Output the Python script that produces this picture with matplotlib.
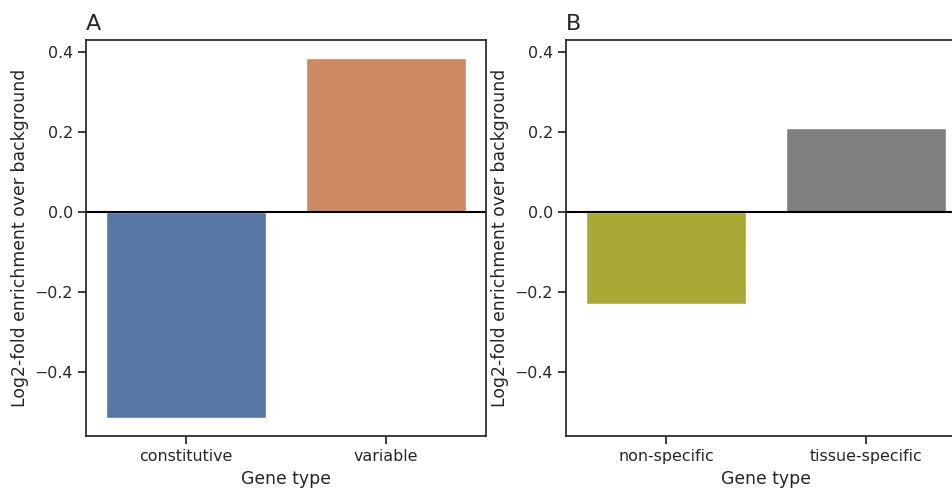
import matplotlib
matplotlib.use("Agg")
import matplotlib.pyplot as plt
import seaborn as sns
from matplotlib.colors import to_rgb
import colorsys

sns.set_theme(style="ticks")
plt.rcParams['font.family'] = ['DejaVu Sans']

# Panel A: constitutive vs variable genes
cats_a = ["constitutive", "variable"]
vals_a = [-0.515, 0.385]
# Panel B: non-specific vs tissue-specific genes
cats_b = ["non-specific", "tissue-specific"]
vals_b = [-0.23, 0.21]

yticks = [-0.4, -0.2, 0.0, 0.2, 0.4]


def desat(c, s=0.75):
    r, g, b = to_rgb(c)
    h, l, sat = colorsys.rgb_to_hls(r, g, b)
    return colorsys.hls_to_rgb(h, l, sat * s)


colors_a = [desat("#4C72B0"), desat("#DD8452")]
colors_b = [desat("#bcbd22"), desat("#7f7f7f")]

fig = plt.figure(figsize=(9.53, 4.88), dpi=100)
W, H = 953, 488
ax_a = fig.add_axes([86 / W, (H - 436) / H, 400 / W, 396 / H])
ax_b = fig.add_axes([566 / W, (H - 436) / H, 400 / W, 396 / H])

for ax, cats, vals, cols, letter in [
    (ax_a, cats_a, vals_a, colors_a, "A"),
    (ax_b, cats_b, vals_b, colors_b, "B"),
]:
    ax.bar(range(len(cats)), vals, width=0.8, color=cols)
    ax.axhline(0, color="black", lw=1.5)
    ax.set_xlim(-0.5, len(cats) - 0.5)
    ax.set_ylim(-0.56, 0.43)
    ax.set_xticks(range(len(cats)))
    ax.set_xticklabels(cats, fontsize=11.4)
    ax.set_yticks(yticks)
    ax.set_yticklabels([f"{t:.1f}".replace("-", "\u2212") for t in yticks], fontsize=11.4)
    ax.set_xlabel("Gene type", fontsize=12.4)
    ax.set_ylabel("Log2-fold enrichment over background", fontsize=12.4)
    ax.set_title(letter, loc="left", fontsize=16, pad=7.5)
    for sp in ax.spines.values():
        sp.set_linewidth(1.25)
        sp.set_color("#262626")

fig.savefig("out.png", dpi=100)
